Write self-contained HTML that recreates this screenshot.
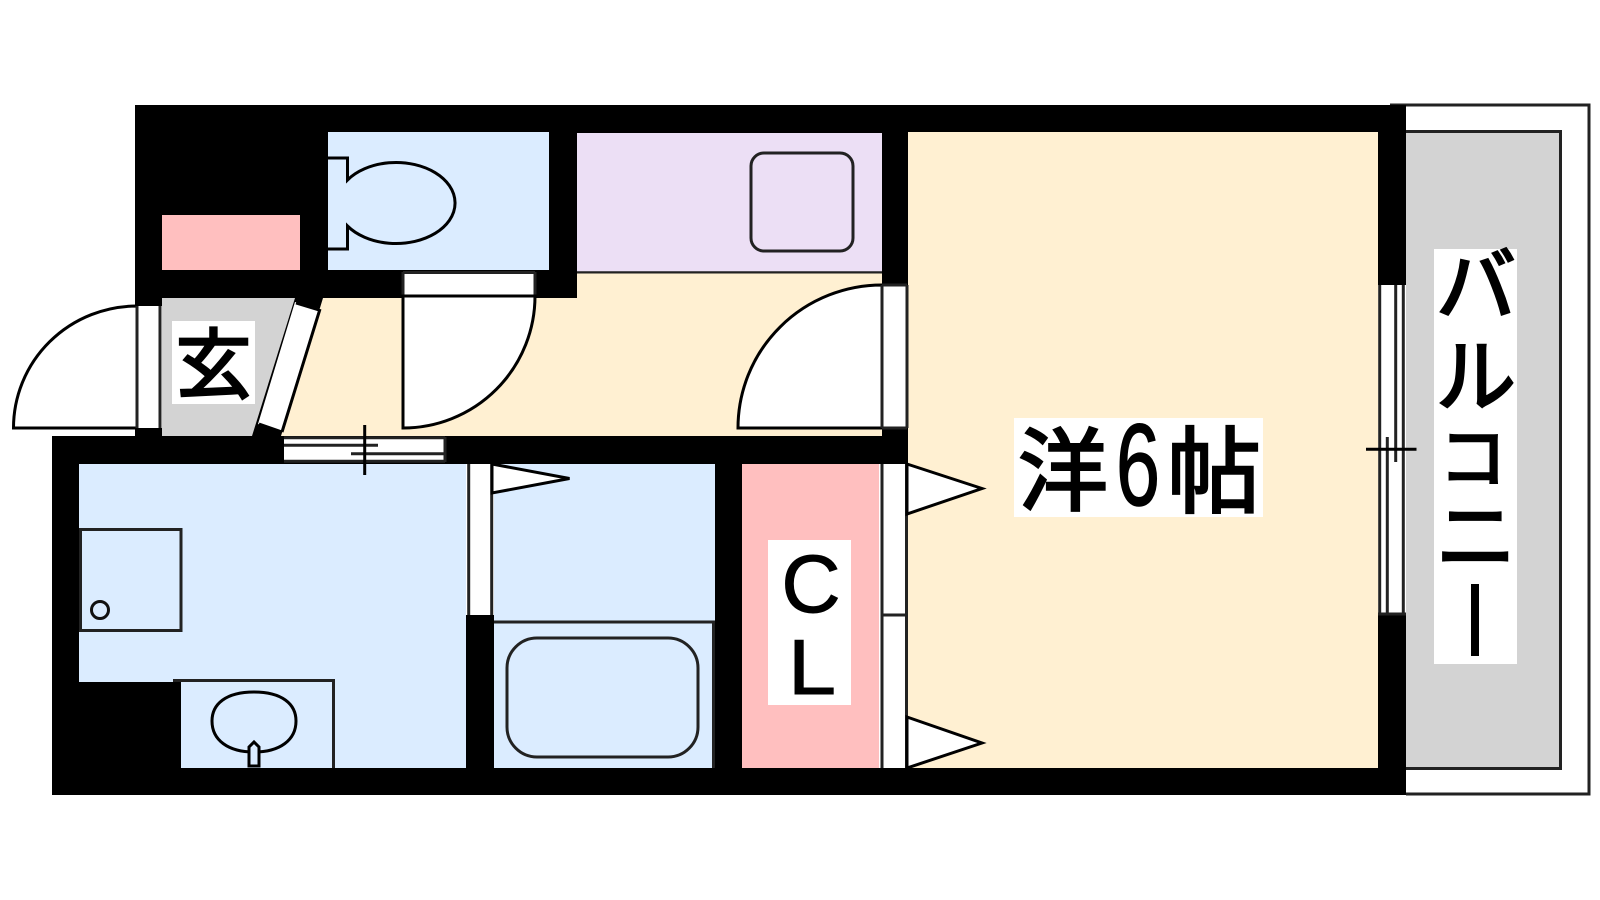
<!DOCTYPE html>
<html><head><meta charset="utf-8"><style>
html,body{margin:0;padding:0;background:#fff}
svg{display:block}
text{font-family:"Liberation Sans","Noto Sans CJK JP",sans-serif;fill:#000}
</style></head><body>
<svg width="1600" height="900" viewBox="0 0 1600 900" xmlns="http://www.w3.org/2000/svg">
<rect width="1600" height="900" fill="#fff"/>
<!-- balcony -->
<path d="M1390 105H1589V794H1406" fill="#fff" stroke="#222" stroke-width="3"/>
<rect x="1406" y="131.500" width="154.500" height="637" fill="#d3d3d3"/>
<path d="M1406 131.500H1560.500V768.500H1406" fill="none" stroke="#222" stroke-width="3"/>
<!-- walls -->
<path d="M135 105H1406V795H52V436H135Z" fill="#000"/>
<!-- rooms -->
<rect x="328" y="132" width="221" height="138" fill="#dbecff"/>
<rect x="577" y="133" width="305" height="139" fill="#ecdff5"/>
<path d="M577 272.500H882" stroke="#222" stroke-width="2.500"/>
<rect x="162" y="215" width="138" height="55" fill="#ffbfbf"/>
<path d="M323 298H404V273.500H882V436H281Z" fill="#fff0d2"/>
<rect x="535" y="270" width="42" height="28" fill="#000"/>
<path d="M162 298H295L252 436H162Z" fill="#d3d3d3"/>
<rect x="908" y="132" width="470" height="636" fill="#fff0d2"/>
<rect x="79" y="464" width="387" height="304" fill="#dbecff"/>
<rect x="494" y="464" width="221" height="304" fill="#dbecff"/>
<rect x="742" y="464" width="137" height="304" fill="#ffbfbf"/>
<rect x="79" y="682" width="102" height="86" fill="#000"/>
<!-- entrance door -->
<rect x="135" y="306" width="27" height="122" fill="#fff"/>
<path d="M137 428H13.500A123.500 122 0 0 1 137 306Z" fill="#fff" stroke="#000" stroke-width="3"/>
<path d="M137 306V428M160 306V428" stroke="#222" stroke-width="3"/>
<!-- slanted door -->
<path d="M295 302L320 309L282 432L258 424Z" fill="#fff"/>
<path d="M296 303L319 310M320 309L282 432M282 432L259 424" stroke="#000" stroke-width="3" fill="none"/>
<!-- sliding window corridor -->
<rect x="284" y="437" width="161" height="25" fill="#fff"/>
<path d="M284 437.700H445M284 445.300H378M351 453.700H445M284 461.300H445M445 437V462" stroke="#222" stroke-width="3" fill="none"/>
<path d="M364.700 425V475" stroke="#000" stroke-width="3"/>
<!-- toilet door -->
<rect x="403" y="271" width="132" height="25" fill="#fff"/>
<path d="M403 272.500H535M403 296H535M403 272V296M535 272V296" stroke="#222" stroke-width="3" fill="none"/>
<path d="M403 296H535A132 132 0 0 1 403 428Z" fill="#fff" stroke="#000" stroke-width="3"/>
<!-- room door -->
<rect x="882" y="285" width="25" height="143" fill="#fff"/>
<path d="M882 428H738A144 143 0 0 1 882 285Z" fill="#fff" stroke="#000" stroke-width="3"/>
<path d="M882 285V428M907 285V428M882 285H907M882 428H907" stroke="#222" stroke-width="3" fill="none"/>
<!-- toilet -->
<path d="M328 158H347.500V180A59 40.500 0 1 1 347.500 226V249H328" fill="#dbecff" stroke="#000" stroke-width="3"/>
<!-- washer (purple) -->
<rect x="751" y="153" width="102" height="98" rx="13" fill="none" stroke="#222" stroke-width="3"/>
<!-- washroom fixtures -->
<rect x="80.500" y="529.500" width="100.500" height="101" fill="none" stroke="#222" stroke-width="3"/>
<circle cx="100" cy="610" r="8.500" fill="none" stroke="#111" stroke-width="3"/>
<path d="M173 680.500H333.500V768" fill="none" stroke="#222" stroke-width="3"/>
<path d="M254 692C282 692 296 704 296 721C296 740 280 752 254 752C228 752 212 740 212 721C212 704 226 692 254 692Z" fill="none" stroke="#000" stroke-width="3"/>
<path d="M249 766V747L254 742L259 747V766Z" fill="#dbecff" stroke="#000" stroke-width="3"/>
<!-- bath door -->
<rect x="466" y="464" width="28" height="151" fill="#fff"/>
<path d="M468.700 464V615M491.700 464V615" stroke="#222" stroke-width="3"/>
<path d="M492 464L569.500 478.500L492 493Z" fill="#fff" stroke="#000" stroke-width="3"/>
<path d="M494 622H715M713.500 622V768" fill="none" stroke="#222" stroke-width="3"/>
<rect x="507" y="638" width="191" height="119" rx="30" fill="none" stroke="#222" stroke-width="3"/>
<!-- closet doors -->
<rect x="879" y="464" width="28" height="304" fill="#fff"/>
<path d="M882 464V768M906.500 464V768M882 615H907" stroke="#222" stroke-width="3" fill="none"/>
<path d="M907 464L982 488.500L907 514Z" fill="#fff" stroke="#000" stroke-width="3"/>
<path d="M907 717L982 743L907 768Z" fill="#fff" stroke="#000" stroke-width="3"/>
<!-- balcony window -->
<rect x="1378" y="285" width="28" height="329" fill="#fff"/>
<path d="M1379.700 285V614M1403.300 285V614M1395.700 285V462M1387.300 437V614M1378 614H1406" stroke="#222" stroke-width="3" fill="none"/>
<path d="M1366 449.300H1416.500" stroke="#000" stroke-width="3"/>
<!-- labels -->
<rect x="172" y="321" width="83" height="83" fill="#fff"/>
<text x="213.500" y="392" font-size="76" text-anchor="middle" stroke="#000" stroke-width="2.500">玄</text>
<rect x="1014" y="418" width="249" height="99" fill="#fff"/>
<text x="1063" y="503" font-size="90" text-anchor="middle" stroke="#000" stroke-width="2.500">洋</text>
<text x="1116" y="505" font-size="116" textLength="44" lengthAdjust="spacingAndGlyphs" stroke="#000" stroke-width="1.500">6</text>
<text x="1214" y="505" font-size="94" text-anchor="middle" stroke="#000" stroke-width="2.500">帖</text>
<rect x="768" y="540" width="83" height="165" fill="#fff"/>
<text x="811" y="612" font-size="82" text-anchor="middle" stroke="#000" stroke-width="1">C</text>
<text x="788" y="694" font-size="78" textLength="48" lengthAdjust="spacingAndGlyphs" stroke="#000" stroke-width="1">L</text>
<rect x="1434" y="249" width="83" height="415" fill="#fff"/>
<g text-anchor="middle" stroke="#000" stroke-width="2.500">
<text x="1476" y="314" font-size="80">バ</text>
<text x="1476" y="405" font-size="80">ル</text>
<text x="1473" y="482" font-size="68">コ</text>
<text x="1476" y="565" font-size="80">ニ</text>
</g>
<rect x="1471" y="584" width="8" height="72" fill="#000"/>
</svg>
</body></html>
